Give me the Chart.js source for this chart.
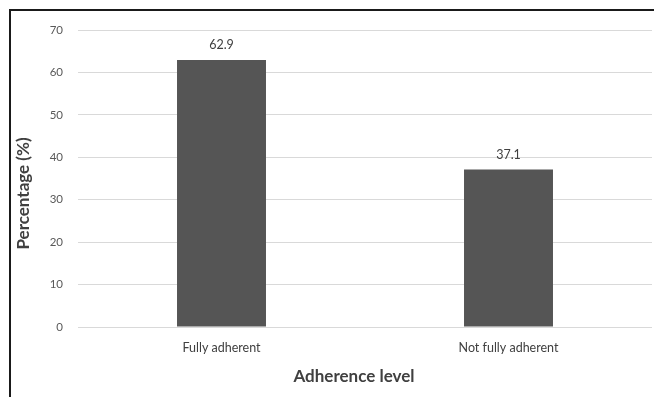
<!DOCTYPE html>
<html>
<head>
<meta charset="utf-8">
<script src="https://cdn.jsdelivr.net/npm/chart.js@4.4.0/dist/chart.umd.min.js"></script>
<style>
  html, body { margin: 0; padding: 0; background: #fff; overflow: hidden; }
  #wrap { position: absolute; left: 0; top: 0; width: 654px; height: 397px; }
  #frame { position: absolute; left: 9px; top: 9px; width: 700px; height: 450px;
           border-left: 2px solid #1a1a1a; border-top: 2px solid #1a1a1a; pointer-events: none; }
</style>
</head>
<body>
<div id="wrap"><canvas id="chart" width="654" height="397"></canvas></div>
<div id="frame"></div>
<script>
const categories = ['Fully adherent', 'Not fully adherent'];
const percentages = [62.9, 37.1];
const yTicks = [0, 10, 20, 30, 40, 50, 60, 70];
const xTitle = 'Adherence level';
const yTitle = 'Percentage (%)';

// value labels above the bars + axis titles (centred on the whole chart like Excel does)
const labelsAndTitles = {
    id: 'labelsAndTitles',
    afterDatasetsDraw(chart) {
        const ctx = chart.ctx;
        const meta = chart.getDatasetMeta(0);
        const area = chart.chartArea;
        ctx.save();
        ctx.font = '12.5px Lato';
        ctx.fillStyle = '#404040';
        ctx.textAlign = 'center';
        ctx.textBaseline = 'middle';
        meta.data.forEach((bar, i) => {
            ctx.fillText(percentages[i].toFixed(1), bar.x, bar.y - 15);
        });

        ctx.font = 'bold 17px Lato';
        ctx.fillText(xTitle, area.left + (area.right - area.left) / 2 - 11, area.bottom + 50);

        ctx.translate(24, area.top + (area.bottom - area.top) / 2 + 15);
        ctx.rotate(-Math.PI / 2);
        ctx.fillText(yTitle, 0, 0);
        ctx.restore();
    }
};

new Chart(document.getElementById('chart'), {
    type: 'bar',
    data: {
        labels: categories,
        datasets: [{
            data: percentages,
            backgroundColor: '#555555',
            borderWidth: 0,
            categoryPercentage: 0.62,
            barPercentage: 0.5
        }]
    },
    options: {
        responsive: false,
        animation: false,
        layout: { padding: { top: 30, right: 2, left: 0, bottom: 0 } },
        plugins: { legend: { display: false }, tooltip: { enabled: false } },
        scales: {
            y: {
                min: 0,
                max: 70,
                afterBuildTicks: (scale) => { scale.ticks = yTicks.map(v => ({ value: v })); },
                afterFit: (scale) => { scale.width = 78; },
                border: { display: false },
                grid: { color: '#d9d9d9', drawTicks: false },
                ticks: { color: '#595959', font: { family: 'Lato', size: 11.5 }, padding: 15 }
            },
            x: {
                afterFit: (scale) => { scale.height = 70; },
                border: { display: false },
                grid: { display: false, drawTicks: false },
                ticks: { color: '#404040', font: { family: 'Lato', size: 12.5 }, padding: 13 }
            }
        }
    },
    plugins: [labelsAndTitles]
});
</script>
</body>
</html>
